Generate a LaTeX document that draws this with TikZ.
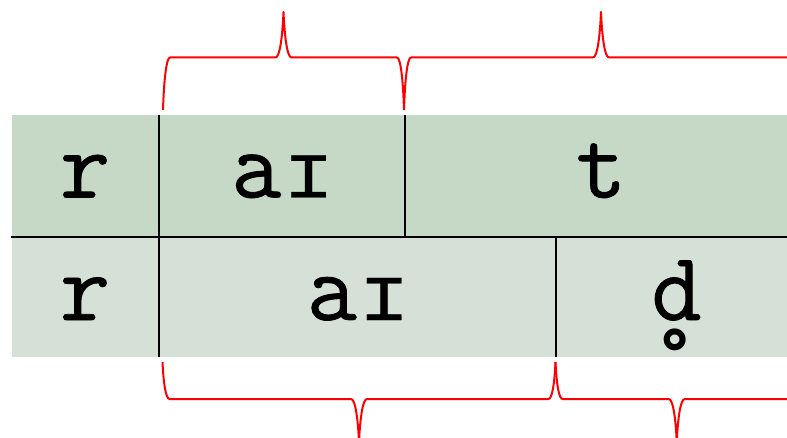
\documentclass[tikz,border=0pt]{standalone}
\usepackage{fontspec}
\setmonofont[FakeBold=0.8]{Latin Modern Mono}
\newfontfamily\ipamono[FakeBold=0.4]{DejaVu Sans Mono}
\newfontfamily\ipasans{DejaVu Sans}
\definecolor{rowtop}{RGB}{198,217,198}
\definecolor{rowbot}{RGB}{213,224,214}
\definecolor{brc}{RGB}{255,0,0}
\newcommand\MyBrace[5]{% x1, x2, yend, yflat, ytip
  \draw[bracestyle] (#1,#3)
    .. controls ({#1+1},{#3+0.6*(#4-#3)}) and ({#1+3.5},#4) .. ({#1+7},#4)
    -- ({(#1+#2)/2-8},#4)
    .. controls ({(#1+#2)/2-4},#4) and ({(#1+#2)/2-1.2},{#4+0.4*(#5-#4)}) .. ({(#1+#2)/2},#5)
    .. controls ({(#1+#2)/2+1.2},{#4+0.4*(#5-#4)}) and ({(#1+#2)/2+4},#4) .. ({(#1+#2)/2+8},#4)
    -- ({#2-7},#4)
    .. controls ({#2-3.5},#4) and ({#2-1},{#3+0.6*(#4-#3)}) .. (#2,#3);}
\newcommand\SmallCapI{\kern4pt{\ipamono\fontsize{77}{80}\selectfont ɪ}}
\newcommand\RingBelow{\raisebox{-5pt}{\ipasans\fontsize{105}{100}\selectfont ̥}}
\tikzset{
  bracestyle/.style={draw=brc, line width=2pt, line join=round},
  rule/.style={draw=black, line width=2pt},
  phon/.style={anchor=base, inner sep=0pt, font=\ttfamily\fontsize{97.5}{100}\selectfont},
}
\begin{document}
\begin{tikzpicture}[x=1pt,y=-1pt]
\useasboundingbox (0,0) rectangle (787,438);
\clip (0,0) rectangle (787,438);
% row fills
\fill[rowtop] (12,115) rectangle (800,237);
\fill[rowbot] (12,237) rectangle (800,357);
% rules
\draw[rule] (11,237) -- (800,237);
\draw[rule] (158.5,115) -- (158.5,357);
\draw[rule] (404.5,115) -- (404.5,237);
\draw[rule] (555.5,237) -- (555.5,357);
% texts
\node[phon] (t1) at (85,197.5) {r};
\node[phon] (t2) at (281.5,197.5) {a\SmallCapI};
\node[phon] (t3) at (601,197.5) {t};
\node[phon] (b1) at (85,320) {r};
\node[phon] (b2) at (357,320) {a\SmallCapI};
\node[phon] (b3) at (676.5,320) {d\RingBelow};
% braces
\MyBrace{163}{404}{110}{57.5}{12}
\MyBrace{404}{798}{110}{57.5}{12}
\MyBrace{162.5}{555.5}{362}{399}{442}
\MyBrace{555.5}{798}{362}{399}{442}
\end{tikzpicture}
\end{document}
